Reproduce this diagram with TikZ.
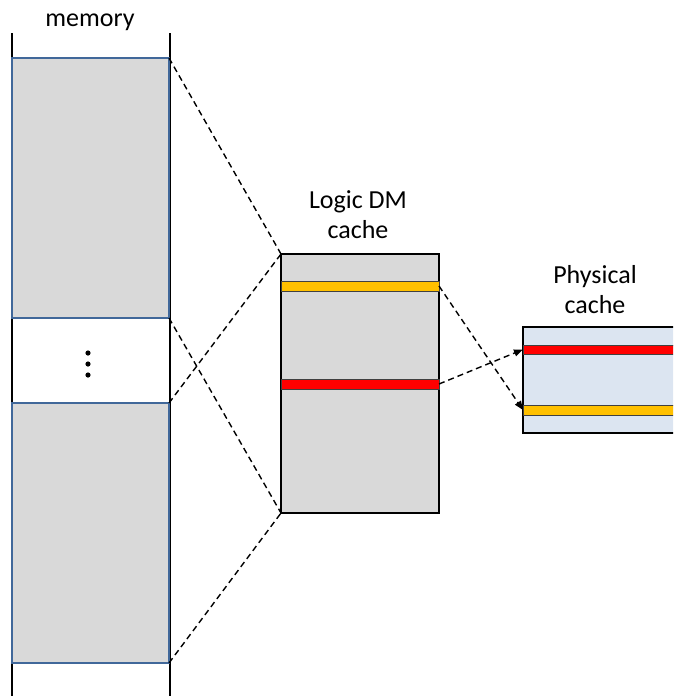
\documentclass[tikz,border=0pt]{standalone}
\usepackage{fontspec}
\setmainfont{Carlito}
\usetikzlibrary{arrows.meta}
\definecolor{blkgray}{HTML}{D9D9D9}
\definecolor{memblue}{HTML}{41689A}
\definecolor{barred}{HTML}{FF0000}
\definecolor{baryellow}{HTML}{FFC000}
\definecolor{physfill}{HTML}{DCE5F1}
\tikzset{
  memblk/.style={draw=memblue, line width=2.6pt, fill=blkgray, inner sep=0pt, outer sep=0pt, anchor=north west},
  cachebox/.style={draw=black, line width=1.9pt, inner sep=0pt, outer sep=0pt, anchor=north west},
  bar/.style={draw=black!75, line width=0.9pt, inner sep=0pt, outer sep=0pt, anchor=north west, minimum height=10pt},
  txtlbl/.style={font=\fontsize{26}{30}\selectfont, align=center, anchor=base},
  mapline/.style={line width=1.4pt, dash pattern=on 6pt off 4pt},
  moveline/.style={line width=1.4pt, dash pattern=on 6pt off 4pt, -{Triangle[length=9pt,width=7pt]}},
}
\begin{document}
\begin{tikzpicture}[x=1pt,y=-1pt]
\useasboundingbox (0,0) rectangle (673,696);
\clip (0,0) rectangle (673,696);
\fill[white] (0,0) rectangle (673,696);

% memory column
\draw[line width=1.7pt] (12,33) -- (12,700);
\draw[line width=1.7pt] (170,33) -- (170,700);
\node[memblk, minimum width=157pt, minimum height=260pt] (m1) at (12,58) {};
\node[memblk, minimum width=157pt, minimum height=260pt] (m2) at (12,403) {};
\node[txtlbl] (memlbl) at (90,27) {memory};
\foreach \y [count=\i] in {353,364,375}
  \fill (88,\y) circle (2.6pt) coordinate (dot\i);

% logic direct-mapped cache
\node[cachebox, fill=blkgray, minimum width=158pt, minimum height=259pt] (L) at (281,254) {};
\node[bar, fill=baryellow, minimum width=158pt] (ly) at (281,281) {};
\node[bar, fill=barred, minimum width=158pt] (lr) at (281,379) {};
\node[txtlbl] (logiclbl) at (358,238) {Logic DM\\cache};

% physical cache
\node[cachebox, fill=physfill, minimum width=180pt, minimum height=106pt] (P) at (523,327) {};
\node[bar, fill=barred, minimum width=180pt, minimum height=9pt] (pr) at (523,345) {};
\node[bar, fill=baryellow, minimum width=180pt] (py) at (523,405) {};
\node[txtlbl] (physlbl) at (595,313) {Physical\\cache};

% mapping of memory regions onto the logic cache
\draw[mapline] (m1.north east) -- (L.north west);
\draw[mapline] (m1.south east) -- (L.south west);
\draw[mapline] (m2.north east) -- (L.north west);
\draw[mapline] (m2.south east) -- (L.south west);

% lines moved into the physical cache
\draw[moveline] (ly.east) -- (py.west);
\draw[moveline] (lr.east) -- (pr.west);
\end{tikzpicture}
\end{document}
